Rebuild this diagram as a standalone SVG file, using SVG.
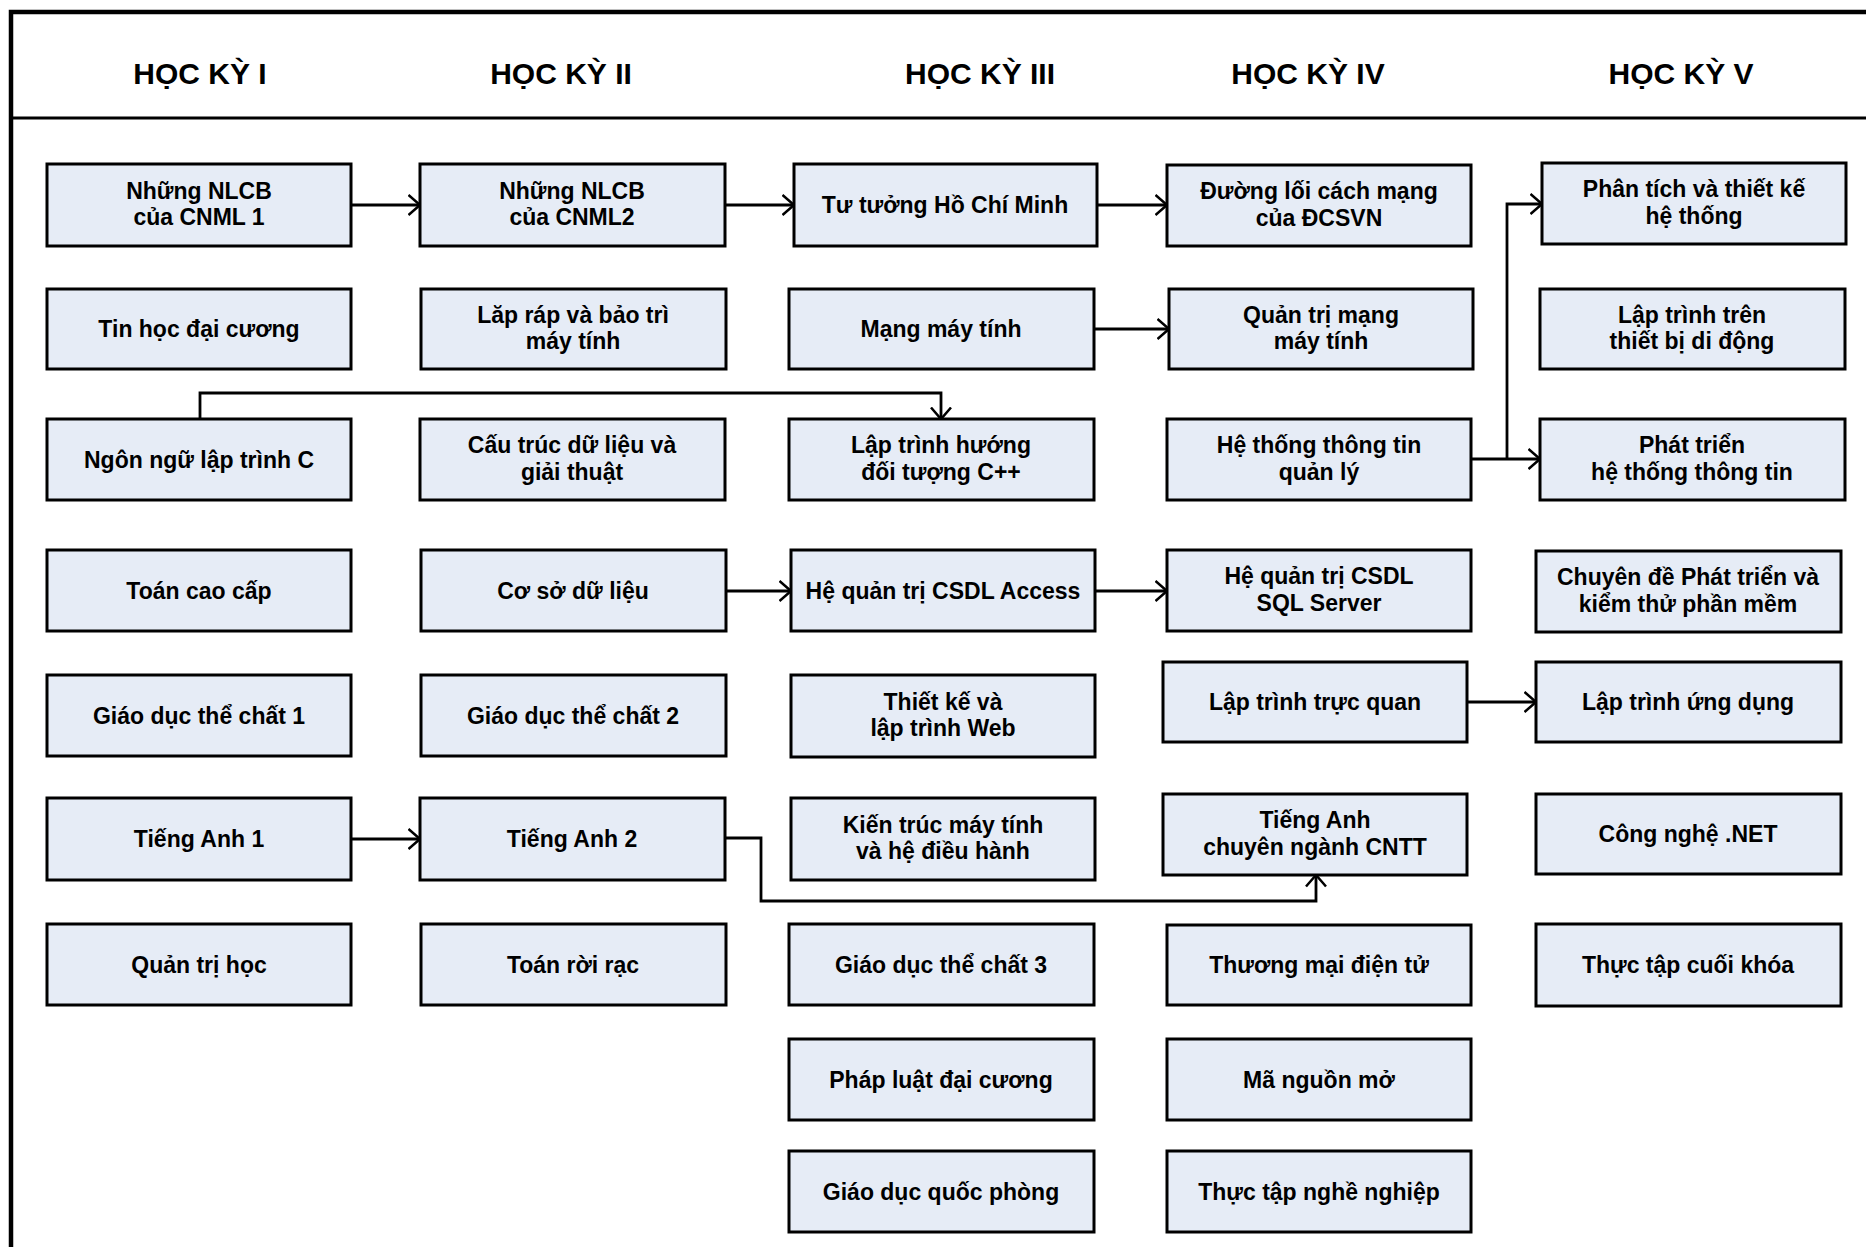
<svg xmlns="http://www.w3.org/2000/svg" width="1866" height="1247" viewBox="0 0 1866 1247">
<defs>
<style>
.bx{fill:#e6ecf6;stroke:#000;stroke-width:3}
.t{font-family:"Liberation Sans",Arial,sans-serif;font-weight:bold;font-size:23px;fill:#000;text-anchor:middle}
.h{font-family:"Liberation Sans",Arial,sans-serif;font-weight:bold;font-size:30px;fill:#000;text-anchor:middle}
.c{fill:none;stroke:#000;stroke-width:2.8}
</style>
<marker id="ar" markerUnits="userSpaceOnUse" viewBox="0 0 14 22" refX="12.5" refY="11" markerWidth="14" markerHeight="22" orient="auto">
<path d="M1,1 L12.5,11 L1,21" fill="none" stroke="#000" stroke-width="2.5"/>
</marker>
</defs>
<rect x="0" y="0" width="1866" height="1247" fill="#fff"/>
<g id="frame">
<path d="M1866,12 H11 V1247" fill="none" stroke="#000" stroke-width="4.5"/>
<line x1="11" y1="118" x2="1866" y2="118" stroke="#000" stroke-width="3"/>
</g>
<g id="headers">
<text class="h" x="200" y="84">HỌC KỲ I</text>
<text class="h" x="561" y="84">HỌC KỲ II</text>
<text class="h" x="980" y="84">HỌC KỲ III</text>
<text class="h" x="1308" y="84">HỌC KỲ IV</text>
<text class="h" x="1681" y="84">HỌC KỲ V</text>
</g>
<g id="connectors">
<line class="c" x1="351" y1="205" x2="420" y2="205" marker-end="url(#ar)"/>
<line class="c" x1="725" y1="205" x2="794" y2="205" marker-end="url(#ar)"/>
<line class="c" x1="1097" y1="205" x2="1167" y2="205" marker-end="url(#ar)"/>
<line class="c" x1="1094" y1="329" x2="1169" y2="329" marker-end="url(#ar)"/>
<path class="c" d="M200,419 V393 H941 V419" marker-end="url(#ar)"/>
<line class="c" x1="1471" y1="459" x2="1540" y2="459" marker-end="url(#ar)"/>
<path class="c" d="M1507,459 V204 H1542" marker-end="url(#ar)"/>
<line class="c" x1="725" y1="591" x2="791" y2="591" marker-end="url(#ar)"/>
<line class="c" x1="1095" y1="591" x2="1167" y2="591" marker-end="url(#ar)"/>
<line class="c" x1="1467" y1="702" x2="1536" y2="702" marker-end="url(#ar)"/>
<line class="c" x1="351" y1="839" x2="420" y2="839" marker-end="url(#ar)"/>
<path class="c" d="M725,838 H761 V901 H1316 V875" marker-end="url(#ar)"/>
</g>
<g id="n1"><rect class="bx" x="47" y="164" width="304" height="82"/><text class="t" x="199" y="198.5">Những NLCB</text><text class="t" x="199" y="225">của CNML 1</text></g>
<g id="n2"><rect class="bx" x="47" y="289" width="304" height="80"/><text class="t" x="199" y="337">Tin học đại cương</text></g>
<g id="n3"><rect class="bx" x="47" y="419" width="304" height="81"/><text class="t" x="199" y="467.5">Ngôn ngữ lập trình C</text></g>
<g id="n4"><rect class="bx" x="47" y="550" width="304" height="81"/><text class="t" x="199" y="598.5">Toán cao cấp</text></g>
<g id="n5"><rect class="bx" x="47" y="675" width="304" height="81"/><text class="t" x="199" y="723.5">Giáo dục thể chất 1</text></g>
<g id="n6"><rect class="bx" x="47" y="798" width="304" height="82"/><text class="t" x="199" y="847">Tiếng Anh 1</text></g>
<g id="n7"><rect class="bx" x="47" y="924" width="304" height="81"/><text class="t" x="199" y="972.5">Quản trị học</text></g>

<g id="n8"><rect class="bx" x="420" y="164" width="305" height="82"/><text class="t" x="572" y="198.5">Những NLCB</text><text class="t" x="572" y="225">của CNML2</text></g>
<g id="n9"><rect class="bx" x="421" y="289" width="305" height="80"/><text class="t" x="573" y="322.5">Lăp ráp và bảo trì</text><text class="t" x="573" y="349">máy tính</text></g>
<g id="n10"><rect class="bx" x="420" y="419" width="305" height="81"/><text class="t" x="572" y="453">Cấu trúc dữ liệu và</text><text class="t" x="572" y="479.5">giải thuật</text></g>
<g id="n11"><rect class="bx" x="421" y="550" width="305" height="81"/><text class="t" x="573" y="598.5">Cơ sở dữ liệu</text></g>
<g id="n12"><rect class="bx" x="421" y="675" width="305" height="81"/><text class="t" x="573" y="723.5">Giáo dục thể chất 2</text></g>
<g id="n13"><rect class="bx" x="420" y="798" width="305" height="82"/><text class="t" x="572" y="847">Tiếng Anh 2</text></g>
<g id="n14"><rect class="bx" x="421" y="924" width="305" height="81"/><text class="t" x="573" y="972.5">Toán rời rạc</text></g>

<g id="n15"><rect class="bx" x="794" y="164" width="303" height="82"/><text class="t" x="945" y="213">Tư tưởng Hồ Chí Minh</text></g>
<g id="n16"><rect class="bx" x="789" y="289" width="305" height="80"/><text class="t" x="941" y="337">Mạng máy tính</text></g>
<g id="n17"><rect class="bx" x="789" y="419" width="305" height="81"/><text class="t" x="941" y="453">Lập trình hướng</text><text class="t" x="941" y="479.5">đối tượng C++</text></g>
<g id="n18"><rect class="bx" x="791" y="550" width="304" height="81"/><text class="t" x="943" y="598.5">Hệ quản trị CSDL Access</text></g>
<g id="n19"><rect class="bx" x="791" y="675" width="304" height="82"/><text class="t" x="943" y="709.5">Thiết kế và</text><text class="t" x="943" y="736">lập trình Web</text></g>
<g id="n20"><rect class="bx" x="791" y="798" width="304" height="82"/><text class="t" x="943" y="832.5">Kiến trúc máy tính</text><text class="t" x="943" y="859">và hệ điều hành</text></g>
<g id="n21"><rect class="bx" x="789" y="924" width="305" height="81"/><text class="t" x="941" y="972.5">Giáo dục thể chất 3</text></g>
<g id="n22"><rect class="bx" x="789" y="1039" width="305" height="81"/><text class="t" x="941" y="1087.5">Pháp luật đại cương</text></g>
<g id="n23"><rect class="bx" x="789" y="1151" width="305" height="81"/><text class="t" x="941" y="1199.5">Giáo dục quốc phòng</text></g>

<g id="n24"><rect class="bx" x="1167" y="165" width="304" height="81"/><text class="t" x="1319" y="199">Đường lối cách mạng</text><text class="t" x="1319" y="225.5">của ĐCSVN</text></g>
<g id="n25"><rect class="bx" x="1169" y="289" width="304" height="80"/><text class="t" x="1321" y="322.5">Quản trị mạng</text><text class="t" x="1321" y="349">máy tính</text></g>
<g id="n26"><rect class="bx" x="1167" y="419" width="304" height="81"/><text class="t" x="1319" y="453">Hệ thống thông tin</text><text class="t" x="1319" y="479.5">quản lý</text></g>
<g id="n27"><rect class="bx" x="1167" y="550" width="304" height="81"/><text class="t" x="1319" y="584">Hệ quản trị CSDL</text><text class="t" x="1319" y="610.5">SQL Server</text></g>
<g id="n28"><rect class="bx" x="1163" y="662" width="304" height="80"/><text class="t" x="1315" y="710">Lập trình trực quan</text></g>
<g id="n29"><rect class="bx" x="1163" y="794" width="304" height="81"/><text class="t" x="1315" y="828">Tiếng Anh</text><text class="t" x="1315" y="854.5">chuyên ngành CNTT</text></g>
<g id="n30"><rect class="bx" x="1167" y="925" width="304" height="80"/><text class="t" x="1319" y="973">Thương mại điện tử</text></g>
<g id="n31"><rect class="bx" x="1167" y="1039" width="304" height="81"/><text class="t" x="1319" y="1087.5">Mã nguồn mở</text></g>
<g id="n32"><rect class="bx" x="1167" y="1151" width="304" height="81"/><text class="t" x="1319" y="1199.5">Thực tập nghề nghiệp</text></g>

<g id="n33"><rect class="bx" x="1542" y="163" width="304" height="81"/><text class="t" x="1694" y="197">Phân tích và thiết kế</text><text class="t" x="1694" y="223.5">hệ thống</text></g>
<g id="n34"><rect class="bx" x="1540" y="289" width="305" height="80"/><text class="t" x="1692" y="322.5">Lập trình trên</text><text class="t" x="1692" y="349">thiết bị di động</text></g>
<g id="n35"><rect class="bx" x="1540" y="419" width="305" height="81"/><text class="t" x="1692" y="453">Phát triển</text><text class="t" x="1692" y="479.5">hệ thống thông tin</text></g>
<g id="n36"><rect class="bx" x="1536" y="551" width="305" height="81"/><text class="t" x="1688" y="585">Chuyên đề Phát triển và</text><text class="t" x="1688" y="611.5">kiểm thử phần mềm</text></g>
<g id="n37"><rect class="bx" x="1536" y="662" width="305" height="80"/><text class="t" x="1688" y="710">Lập trình ứng dụng</text></g>
<g id="n38"><rect class="bx" x="1536" y="794" width="305" height="80"/><text class="t" x="1688" y="842">Công nghệ .NET</text></g>
<g id="n39"><rect class="bx" x="1536" y="924" width="305" height="82"/><text class="t" x="1688" y="973">Thực tập cuối khóa</text></g>
</svg>
